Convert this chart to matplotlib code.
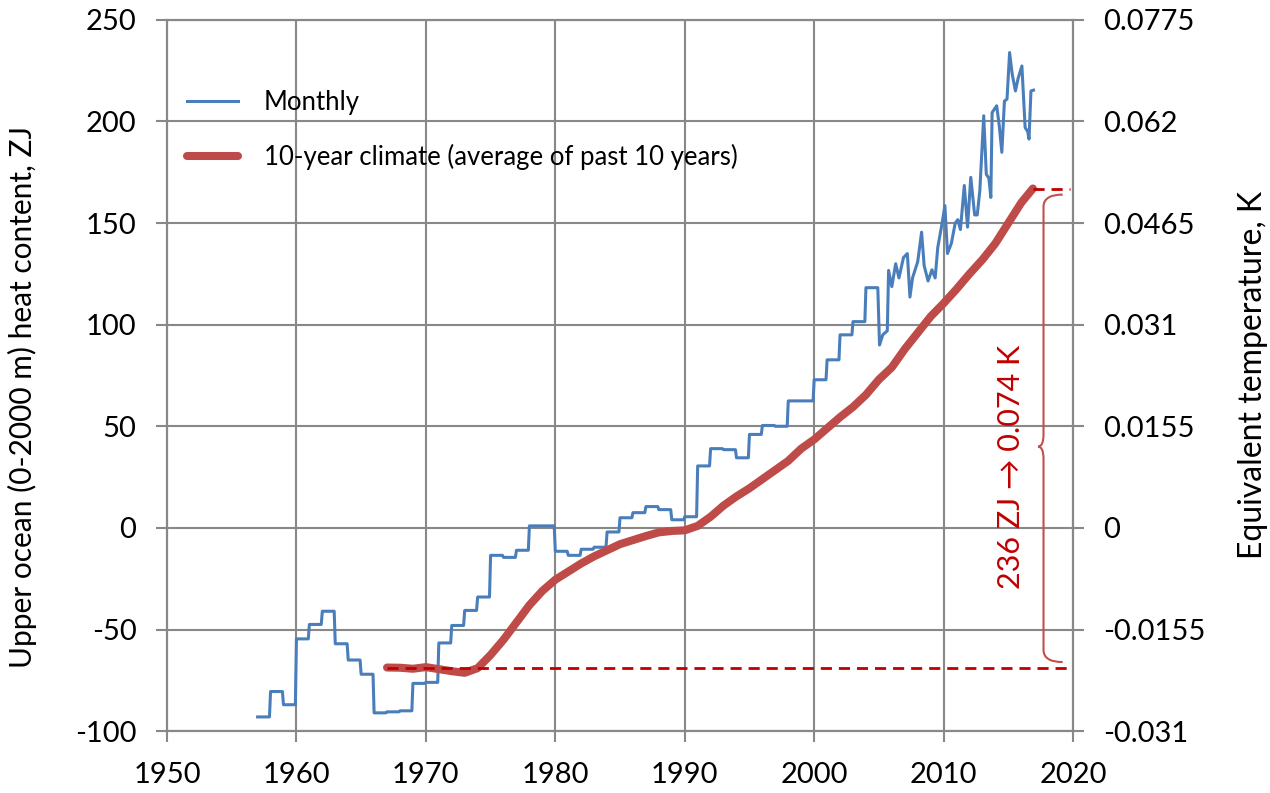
import numpy as np
import matplotlib.pyplot as plt
from matplotlib.path import Path
from matplotlib.patches import PathPatch

plt.rcParams['font.family'] = ['Lato', 'DejaVu Sans']
plt.rcParams['axes.unicode_minus'] = False

# --- dados ---
# anual (valor repetido em cada mês do ano), 1957-2004
anos = np.arange(1957, 2005)
anual_zj = [-93, -80.5, -87, -54.6, -47.5, -41, -57, -65, -72, -91,
            -90.5, -90, -76.5, -76, -56.6, -48, -40.6, -34, -13.5, -14.5,
            -11, 1, 1, -11.5, -13.5, -10.5, -9.5, -2, 5, 7.5,
            10.5, 9, 4, 5.5, 30.5, 39, 38.5, 34.5, 46, 50.4,
            50, 62.5, 62.5, 72.9, 82.7, 95, 101.5, 118.2]

# mensal (Argo) a partir de 2005
mensal_t = [2005.05, 2005.3, 2005.65, 2005.75, 2006.0, 2006.3, 2006.55, 2006.9,
            2007.2, 2007.4, 2007.6, 2008.0, 2008.3, 2008.5, 2008.8, 2009.1,
            2009.35, 2009.55, 2009.9, 2010.1, 2010.3, 2010.6, 2010.9, 2011.1,
            2011.3, 2011.6, 2011.85, 2012.1, 2012.4, 2012.6, 2012.8, 2013.1,
            2013.3, 2013.5, 2013.65, 2013.75, 2014.1, 2014.3, 2014.5, 2014.7,
            2014.9, 2015.1, 2015.3, 2015.55, 2015.75, 2016.05, 2016.3, 2016.5,
            2016.6, 2016.75, 2016.95]
mensal_zj = [90, 95, 97, 126.7, 118.7, 130, 123, 133,
             135, 113.6, 123, 131, 145.5, 129, 121.5, 127,
             123, 138, 150.5, 158.6, 135, 140, 150, 151.7,
             146.8, 168.5, 148, 172.5, 154, 154, 166, 202.8,
             174, 172, 162.6, 204.4, 207.7, 198, 184.8, 210,
             211, 233.9, 223.3, 215, 221, 227.3, 197, 195,
             191.3, 215, 215.4]

# média dos últimos 10 anos
clima_t = [1967, 1968, 1969, 1970, 1971, 1972, 1973, 1974, 1975, 1976,
           1977, 1978, 1979, 1980, 1981, 1982, 1983, 1984, 1985, 1986,
           1987, 1988, 1989, 1990, 1991, 1992, 1993, 1994, 1995, 1996,
           1997, 1998, 1999, 2000, 2001, 2002, 2003, 2004, 2005, 2006,
           2007, 2008, 2009, 2010, 2011, 2012, 2013, 2014, 2015, 2016, 2016.9]
clima_zj = [-68.7, -68.8, -69.3, -68.5, -69.5, -70.5, -71.3, -69, -62.5, -55,
            -46.5, -38, -31, -25.5, -21.5, -17.5, -14, -11, -8, -6,
            -4, -2.2, -1.5, -1.2, 1, 5.5, 11, 15.5, 19.5, 24,
            28.5, 33, 39, 43.5, 49, 54.5, 59.5, 65.5, 73, 79,
            88, 96, 104, 110.5, 117.5, 125, 132, 140, 150, 160, 167]

K_POR_ZJ = 0.00031
ticks_dir = [-0.031, -0.0155, 0, 0.0155, 0.031, 0.0465, 0.062, 0.0775]
ticks_dir_txt = ['-0.031', '-0.0155', '0', '0.0155', '0.031', '0.0465', '0.062', '0.0775']
texto_delta = '236 ZJ \u2192 0.074 K'

# série mensal completa
t_anual = np.concatenate([a + np.array([0.0, 11 / 12]) for a in anos])
v_anual = np.repeat(anual_zj, 2)
t_mensal = np.concatenate([t_anual, mensal_t])
v_mensal = np.concatenate([v_anual, mensal_zj])

# --- cores ---
AZUL = '#4A7EBB'
VERM = '#BE4B48'
VERM_ESC = '#C00000'
CINZA = '#888888'

fig = plt.figure(figsize=(12.7, 7.93), dpi=100)
ax = fig.add_axes([0.1315, 0.078, 0.7134, 0.897])

ax.plot(t_mensal, v_mensal, color=AZUL, lw=2.2, label='Monthly', zorder=3)
ax.plot(clima_t, clima_zj, color=VERM, lw=5.8, solid_capstyle='round',
        label='10-year climate (average of past 10 years)', zorder=4)

# linhas tracejadas de referência
ax.plot([clima_t[0], 2020], [clima_zj[0], clima_zj[0]], color=VERM_ESC, lw=2,
        ls=(0, (4, 2.5)), zorder=5)
ax.plot([clima_t[-1], 2019.8], [clima_zj[-1], clima_zj[-1]], color=VERM_ESC, lw=2,
        ls=(0, (4, 2.5)), zorder=5)

# chave
xs, xe, xp = 2017.72, 2019.2, 2017.3
yt, yb, ym, r = 164, -66, 40, 6
verts = [(xe, yt), (xs, yt), (xs, yt - r),
         (xs, ym + r), (xs, ym), (xp, ym),
         (xs, ym), (xs, ym - r),
         (xs, yb + r), (xs, yb), (xe, yb)]
codes = [Path.MOVETO, Path.CURVE3, Path.CURVE3,
         Path.LINETO, Path.CURVE3, Path.CURVE3,
         Path.CURVE3, Path.CURVE3,
         Path.LINETO, Path.CURVE3, Path.CURVE3]
ax.add_patch(PathPatch(Path(verts, codes), fill=False, ec='#C0504D', lw=1.5, zorder=5))

ax.text(2015.2, 30, texto_delta, rotation=90, color=VERM_ESC, fontsize=22,
        ha='center', va='center')

ax.set_xlim(1950, 2020)
ax.set_ylim(-100, 250)
ax.set_xticks(range(1950, 2021, 10))
ax.set_yticks(range(-100, 251, 50))
ax.grid(True, color=CINZA, lw=1.5)
ax.set_axisbelow(True)
for s in ax.spines.values():
    s.set_color(CINZA)
    s.set_linewidth(1.5)
ax.tick_params(colors=CINZA, labelcolor='black', length=8, width=1.5,
               labelsize=21, pad=14)
ax.set_ylabel('Upper ocean (0-2000 m) heat content, ZJ', fontsize=21.5)
ax.yaxis.set_label_coords(-0.143, 0.47)

ax2 = ax.twinx()
ax2.set_ylim(-100 * K_POR_ZJ, 250 * K_POR_ZJ)
ax2.set_yticks(ticks_dir)
ax2.set_yticklabels(ticks_dir_txt)
for s in ax2.spines.values():
    s.set_color(CINZA)
    s.set_linewidth(1.5)
ax2.tick_params(colors=CINZA, labelcolor='black', length=8, width=1.5,
                labelsize=21, pad=14)
ax2.set_ylabel('Equivalent temperature, K', fontsize=23)
ax2.yaxis.set_label_coords(1.182, 0.5)

ax.legend(loc='upper left', bbox_to_anchor=(0.022, 0.902), frameon=False,
          fontsize=18.5, handlelength=2.0, handletextpad=1.0, labelspacing=1.13,
          borderaxespad=0, borderpad=0)

fig.savefig('out.png', dpi=100)
